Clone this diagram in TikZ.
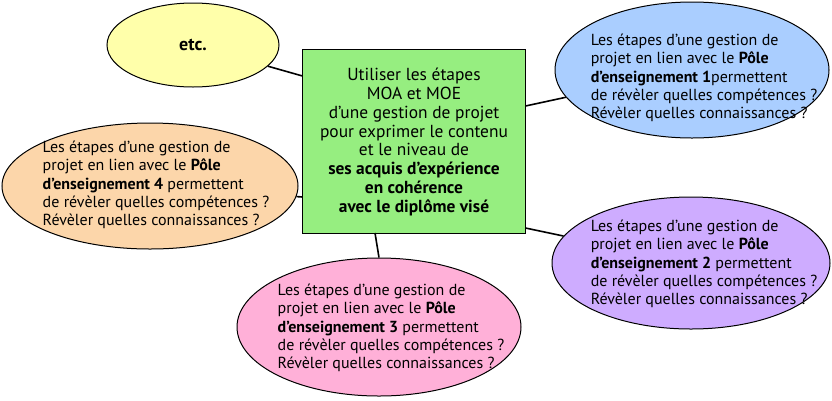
\documentclass[tikz,border=0pt]{standalone}
\usepackage{fontspec}
\setmainfont{PT Sans}
\usetikzlibrary{shapes.geometric}
\definecolor{cgreen}{RGB}{150,238,128}
\definecolor{cyellow}{RGB}{255,255,170}
\definecolor{cblue}{RGB}{170,206,255}
\definecolor{corange}{RGB}{252,214,170}
\definecolor{cpurple}{RGB}{206,172,255}
\definecolor{cpink}{RGB}{255,176,216}
\begin{document}
\begin{tikzpicture}[x=1pt,y=-1pt,
  bubble/.style={draw=black,line width=1pt,ellipse,inner sep=0pt},
  etext/.style={align=left,inner sep=0pt,font=\fontsize{16}{18.4}\selectfont},
  link/.style={draw=black,line width=1.6pt}]
\useasboundingbox (0,0) rectangle (832,400);
\node[draw=black,line width=1pt,fill=cgreen,minimum width=223pt,minimum height=184pt,inner sep=0pt] (box) at (414,141) {};
\node[align=center,inner sep=0pt,font=\fontsize{17.4}{18.75}\selectfont] at (414,142) {Utiliser les étapes\\MOA et MOE\\d’une gestion de projet\\pour exprimer le contenu\\et le niveau de\\\textbf{ses acquis d’expérience}\\\textbf{en cohérence}\\\textbf{avec le diplôme visé}};
\node[bubble,fill=cyellow,minimum width=172pt,minimum height=84pt] (etc) at (193,45) {};
\node[font=\fontsize{18}{20}\selectfont\bfseries] at (193,45) {etc.};
\node[bubble,fill=cblue,minimum width=274pt,minimum height=136pt] (p1) at (692,70) {};
\node[etext] at (704,78) {Les étapes d’une gestion de\\projet en lien avec le \textbf{Pôle}\\\textbf{d’enseignement 1}permettent\\de révèler quelles compétences ?\\Révèler quelles connaissances ?};
\node[bubble,fill=corange,minimum width=296pt,minimum height=126pt] (p4) at (150,186) {};
\node[etext] at (156,185) {Les étapes d’une gestion de\\projet en lien avec le \textbf{Pôle}\\\textbf{d’enseignement 4} permettent\\de révèler quelles compétences ?\\Révèler quelles connaissances ?};
\node[bubble,fill=cpurple,minimum width=278pt,minimum height=132pt] (p2) at (691,263) {};
\node[etext] at (704,264) {Les étapes d’une gestion de\\projet en lien avec le \textbf{Pôle}\\\textbf{d’enseignement 2} permettent\\de révèler quelles compétences ?\\Révèler quelles connaissances ?};
\node[bubble,fill=cpink,minimum width=284pt,minimum height=138pt] (p3) at (379,327) {};
\node[etext] at (391,328) {Les étapes d’une gestion de\\projet en lien avec le \textbf{Pôle}\\\textbf{d’enseignement 3} permettent\\de révèler quelles compétences ?\\Révèler quelles connaissances ?};
\coordinate (b1) at (302.5,76);
\coordinate (b2) at (525.5,106);
\coordinate (b3) at (302.5,197);
\coordinate (b4) at (525.5,228);
\coordinate (b5) at (375,233);
\draw[link] (b1) -- (etc);
\draw[link] (b2) -- (p1);
\draw[link] (b3) -- (p4);
\draw[link] (b4) -- (p2);
\draw[link] (b5) -- (p3.north);
\end{tikzpicture}
\end{document}
